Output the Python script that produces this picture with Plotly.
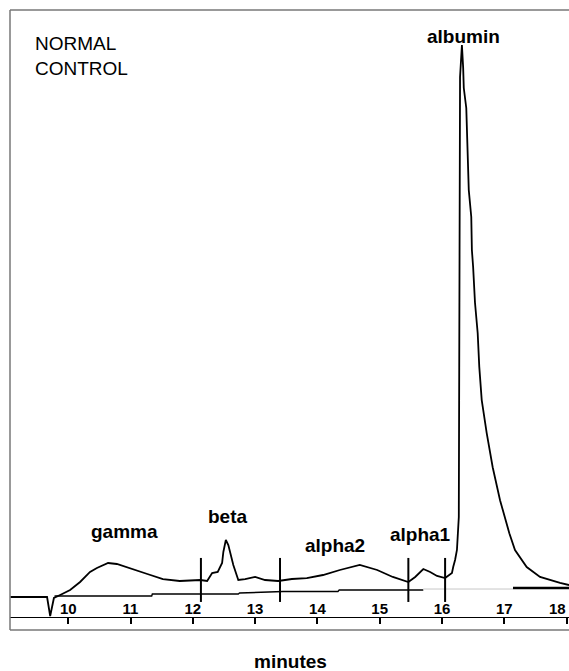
import plotly.graph_objects as go

# ---- data (time in minutes, detector signal in arbitrary units) ----
trace_time = [9.07, 9.66, 9.71, 9.77, 9.87, 10.03, 10.19, 10.35, 10.46, 10.64, 10.78, 10.99,
              11.27, 11.52, 11.79, 12.12, 12.23, 12.31, 12.40, 12.47, 12.49, 12.53, 12.57,
              12.65, 12.73, 12.84, 13.00, 13.16, 13.37, 13.59, 13.83, 14.09, 14.36, 14.68,
              14.96, 15.21, 15.46, 15.57, 15.70, 15.81, 15.92, 16.05, 16.16, 16.18, 16.21,
              16.24, 16.27, 16.29, 16.32, 16.34, 16.35, 16.39, 16.40, 16.42, 16.43, 16.47,
              16.48, 16.50, 16.53, 16.573, 16.599, 16.638, 16.718, 16.814, 16.932, 17.081,
              17.172, 17.36, 17.574, 17.895, 18.04]
trace_signal = [0.0, 0.0, -3.45, -0.18, 0.36, 1.27, 2.73, 4.55, 5.27, 6.18, 6.0, 5.27,
                4.18, 3.27, 2.91, 3.09, 2.91, 4.36, 4.55, 6.18, 8.18, 10.36, 9.45,
                5.82, 3.09, 3.27, 3.64, 3.09, 2.91, 3.27, 3.45, 4.0, 4.91, 5.82,
                4.91, 3.64, 2.73, 3.64, 5.09, 4.55, 3.82, 3.45, 4.36, 5.45, 6.73,
                8.55, 14.55, 94.55, 100.36, 96.18, 92.55, 88.91, 84.91, 80.0, 74.0, 69.09,
                63.09, 60.0, 53.5, 48.0, 41.8, 35.8, 29.8, 23.6, 17.6, 11.6,
                8.55, 5.45, 3.64, 2.55, 2.18]

baseline_time = [9.78, 11.34, 11.35, 12.73, 12.75, 13.45, 14.33, 14.35, 15.70]
baseline_signal = [0.18, 0.18, 0.55, 0.55, 0.73, 1.0, 1.0, 1.27, 1.27]
grey_time = [15.70, 17.14]
grey_signal = [1.45, 1.45]
tail_time = [17.14, 18.04]
tail_signal = [1.64, 1.64]

divider_times = [12.13, 13.40, 15.46, 16.05]
divider_top = 7.1
divider_bottom = -0.9

peak_names = ["gamma", "beta", "alpha2", "alpha1", "albumin"]
peak_label_time = [10.90, 12.56, 14.29, 15.65, 16.34]
peak_label_signal = [11.9, 14.6, 9.3, 11.4, 102.0]

tick_values = [10, 11, 12, 13, 14, 15, 16, 17, 18]

FONT = "Arial, Liberation Sans, sans-serif"

fig = go.Figure()

# main electropherogram
fig.add_trace(go.Scatter(x=trace_time, y=trace_signal, mode="lines",
                         line=dict(color="black", width=1.8), hoverinfo="skip"))
# integration baseline
fig.add_trace(go.Scatter(x=baseline_time, y=baseline_signal, mode="lines",
                         line=dict(color="black", width=1.4), hoverinfo="skip"))
fig.add_trace(go.Scatter(x=grey_time, y=grey_signal, mode="lines",
                         line=dict(color="#c8c8c8", width=1), hoverinfo="skip"))
fig.add_trace(go.Scatter(x=tail_time, y=tail_signal, mode="lines",
                         line=dict(color="black", width=2.5), hoverinfo="skip"))

# fraction dividers
dx, dy = [], []
for t in divider_times:
    dx += [t, t, None]
    dy += [divider_top, divider_bottom, None]
fig.add_trace(go.Scatter(x=dx, y=dy, mode="lines",
                         line=dict(color="black", width=2), hoverinfo="skip"))

for name, t, s in zip(peak_names, peak_label_time, peak_label_signal):
    fig.add_annotation(x=t, y=s, text="<b>%s</b>" % name, showarrow=False,
                       xanchor="center", yanchor="middle",
                       font=dict(family=FONT, size=19, color="black"))

fig.add_annotation(x=9.43, y=98.4, text="NORMAL<br>CONTROL", showarrow=False,
                   xanchor="left", yanchor="middle", align="left",
                   font=dict(family=FONT, size=19, color="black"))

fig.add_annotation(xref="paper", yref="paper", x=0.502, y=-0.05,
                   text="<b>minutes</b>", showarrow=False,
                   xanchor="center", yanchor="middle",
                   font=dict(family=FONT, size=19, color="black"))

# last tick label sits on the right edge (plotly hides overflowing inside labels)
fig.add_annotation(xref="paper", yref="paper", x=1.0, y=0.034,
                   text="<b>%d</b>" % tick_values[-1], showarrow=False,
                   xanchor="right", yanchor="middle", xshift=-1,
                   font=dict(family=FONT, size=15, color="black"))

# frame (left, top, bottom)
for x0, y0, x1, y1 in [(0, 0, 0, 1), (0, 1, 1, 1), (0, 0, 1, 0)]:
    fig.add_shape(type="line", xref="paper", yref="paper", x0=x0, y0=y0, x1=x1, y1=y1,
                  line=dict(color="#777777", width=1.5))

fig.update_layout(
    width=569, height=671,
    margin=dict(l=10, r=0, t=10, b=41),
    paper_bgcolor="white", plot_bgcolor="white",
    showlegend=False,
    xaxis=dict(range=[9.065, 18.039], anchor="free", position=13 / 620,
               tickmode="array", tickvals=tick_values,
               ticks="outside", ticklen=6, tickwidth=1.5, tickcolor="black",
               ticklabelposition="inside",
               tickfont=dict(family=FONT, size=15, color="black", weight="bold"),
               showline=True, linecolor="black", linewidth=1.2,
               showgrid=False, zeroline=False),
    yaxis=dict(range=[-6.0, 106.73], visible=False, showgrid=False, zeroline=False),
)

fig.write_html("out.html")
